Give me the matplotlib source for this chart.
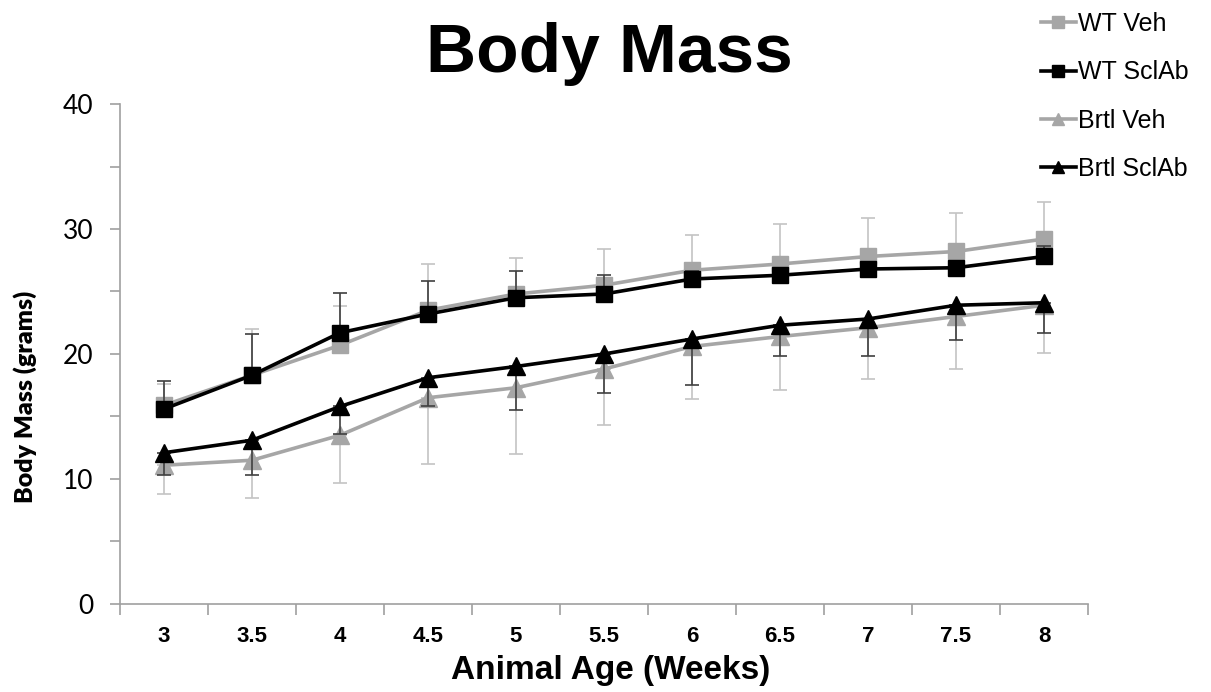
"""Body mass growth curves for WT and Brtl mice, vehicle vs. SclAb treatment."""

import matplotlib
import matplotlib.pyplot as plt
import numpy as np
from matplotlib.lines import Line2D

matplotlib.use("Agg")

plt.rcParams["font.family"] = ["Liberation Sans", "DejaVu Sans"]

ages = ["3", "3.5", "4", "4.5", "5", "5.5", "6", "6.5", "7", "7.5", "8"]

wt_veh = [15.9, 18.3, 20.7, 23.5, 24.8, 25.5, 26.7, 27.2, 27.8, 28.2, 29.2]
wt_veh_sd = [1.7, 3.7, 3.1, 3.7, 2.9, 2.9, 2.8, 3.2, 3.1, 3.1, 3.0]

wt_sclab = [15.6, 18.3, 21.7, 23.2, 24.5, 24.8, 26.0, 26.3, 26.8, 26.9, 27.8]
wt_sclab_sd = [2.2, 3.3, 3.2, 2.6, 2.1, 1.5, 0.6, 0.6, 0.5, 0.5, 0.8]

brtl_veh = [11.1, 11.5, 13.5, 16.5, 17.3, 18.8, 20.6, 21.4, 22.1, 23.0, 23.9]
brtl_veh_sd = [2.3, 3.0, 3.8, 5.3, 5.3, 4.5, 4.2, 4.3, 4.1, 4.2, 3.8]

brtl_sclab = [12.1, 13.1, 15.8, 18.1, 19.0, 20.0, 21.2, 22.3, 22.8, 23.9, 24.1]
brtl_sclab_sd = [1.8, 2.8, 2.2, 2.3, 3.5, 3.1, 3.7, 2.5, 3.0, 2.8, 2.4]

GRAY = "#a6a6a6"
BLACK = "#000000"
AXIS_GRAY = "#a0a0a0"


def main():
    fig = plt.figure(figsize=(12.11, 6.92), dpi=100)
    ax = fig.add_axes([0.0991, 0.1272, 0.7993, 0.7225])
    x = np.arange(len(ages))
    zeros = np.zeros(len(ages))

    # WT groups show SD upward, Brtl groups downward
    series = [
        ("WT Veh", wt_veh, [zeros, wt_veh_sd], GRAY, "#c4c4c4", "s", 11),
        ("WT SclAb", wt_sclab, [zeros, wt_sclab_sd], BLACK, "#404040", "s", 11),
        ("Brtl Veh", brtl_veh, [brtl_veh_sd, zeros], GRAY, "#c4c4c4", "^", 13),
        ("Brtl SclAb", brtl_sclab, [brtl_sclab_sd, zeros], BLACK, "#404040", "^", 13),
    ]

    handles = []
    for i, (name, vals, err, color, ecolor, marker, ms) in enumerate(series):
        ax.errorbar(x, vals, yerr=err, fmt="none", ecolor=ecolor,
                    elinewidth=1.2, capsize=5, capthick=1.2, zorder=2 + i * 2)
        ax.plot(x, vals, color=color, linewidth=2.6, marker=marker,
                markersize=ms, zorder=3 + i * 2)
        handles.append(Line2D([], [], color=color, linewidth=2.6,
                              marker=marker, markersize=8, label=name))

    ax.set_xlim(-0.5, len(ages) - 0.5)
    ax.set_ylim(0, 40)

    ax.set_xticks(x)
    ax.set_xticklabels(ages, fontsize=16, fontweight="bold")
    ax.set_xticks(np.arange(-0.5, len(ages), 1.0), minor=True)
    ax.tick_params(axis="x", which="major", length=0, pad=16)
    ax.tick_params(axis="x", which="minor", length=8, width=1.2,
                   color=AXIS_GRAY, direction="out")

    ax.set_yticks([0, 10, 20, 30, 40])
    ax.set_yticks([5, 15, 25, 35], minor=True)
    ax.tick_params(axis="y", which="both", length=7, width=1.2,
                   color=AXIS_GRAY, direction="out", pad=12)
    for lbl in ax.get_yticklabels():
        lbl.set_family(["Lato", "DejaVu Sans"])
        lbl.set_fontsize(19)

    for side in ("top", "right"):
        ax.spines[side].set_visible(False)
    for side in ("left", "bottom"):
        ax.spines[side].set_color(AXIS_GRAY)
        ax.spines[side].set_linewidth(1.2)

    ax.set_xlabel("Animal Age (Weeks)", fontsize=24, fontweight="bold")
    ax.xaxis.set_label_coords(0.507, -0.103)
    ax.set_ylabel("Body Mass (grams)", fontsize=18, fontweight="heavy",
                  family=["Lato", "DejaVu Sans"])
    ax.yaxis.set_label_coords(-0.086, 0.415)
    fig.text(0.503, 0.896, "Body Mass", fontsize=50, fontweight="bold",
             ha="center", va="baseline")

    fig.legend(handles=handles, loc="upper left",
               bbox_to_anchor=(0.851, 0.997), frameon=False, fontsize=18,
               handlelength=1.4, handletextpad=0.1, labelspacing=0.97,
               borderaxespad=0.0)

    fig.savefig("out.png", dpi=100)
    plt.close(fig)


if __name__ == "__main__":
    main()
